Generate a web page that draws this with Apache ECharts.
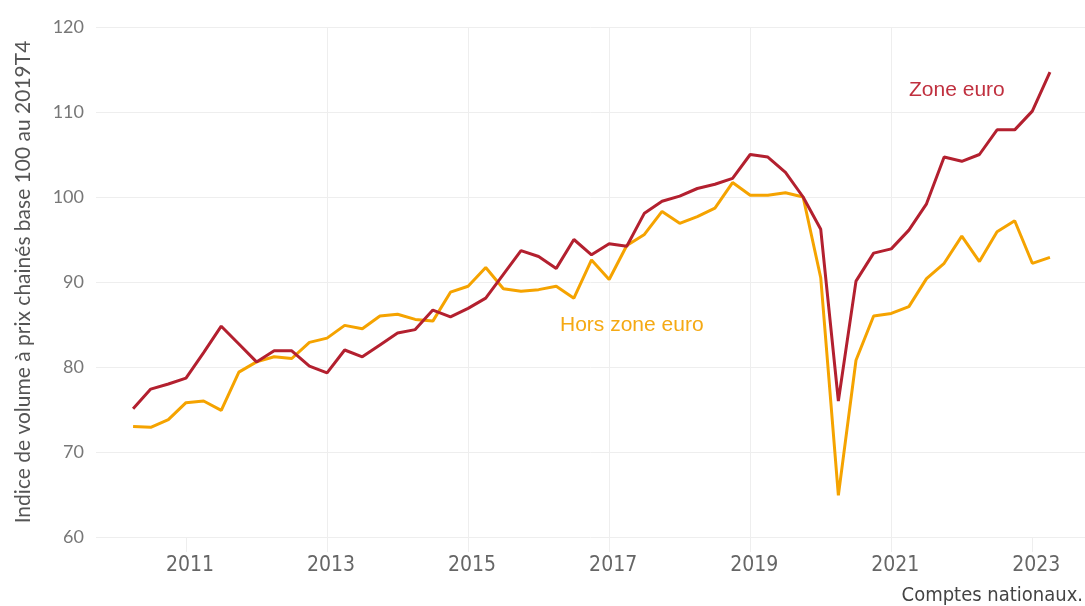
<!DOCTYPE html>
<html>
<head>
<meta charset="utf-8">
<script src="https://cdn.jsdelivr.net/npm/echarts@6/dist/echarts.min.js"></script>
<style>
  html, body { margin: 0; padding: 0; background: #fff; }
  #chart { width: 1085px; height: 606px; }
</style>
</head>
<body>
<div id="chart"></div>
<script>
// trimestres, de 2010T2 à 2023T2
const quarters = [
    '2010T2', '2010T3', '2010T4',
    '2011T1', '2011T2', '2011T3', '2011T4',
    '2012T1', '2012T2', '2012T3', '2012T4',
    '2013T1', '2013T2', '2013T3', '2013T4',
    '2014T1', '2014T2', '2014T3', '2014T4',
    '2015T1', '2015T2', '2015T3', '2015T4',
    '2016T1', '2016T2', '2016T3', '2016T4',
    '2017T1', '2017T2', '2017T3', '2017T4',
    '2018T1', '2018T2', '2018T3', '2018T4',
    '2019T1', '2019T2', '2019T3', '2019T4',
    '2020T1', '2020T2', '2020T3', '2020T4',
    '2021T1', '2021T2', '2021T3', '2021T4',
    '2022T1', '2022T2', '2022T3', '2022T4',
    '2023T1', '2023T2'
];

// indice de volume, base 100 au 2019T4
const zoneEuro = [
    75.1, 77.4, 78.0,
    78.7, 81.7, 84.8, 82.7,
    80.6, 81.9, 81.9, 80.1,
    79.3, 82.0, 81.2, 82.6,
    84.0, 84.4, 86.7, 85.9,
    86.9, 88.1, 90.9, 93.7,
    93.0, 91.6, 95.0, 93.2,
    94.5, 94.2, 98.1, 99.5,
    100.1, 101.0, 101.5, 102.2,
    105.0, 104.7, 102.9, 100.0,
    96.2, 76.0, 90.1, 93.4,
    93.9, 96.1, 99.2, 104.7,
    104.2, 105.0, 107.9, 107.9,
    110.1, 114.7
];

const horsZoneEuro = [
    73.0, 72.9, 73.8,
    75.8, 76.0, 74.9, 79.4,
    80.6, 81.2, 81.0, 82.9,
    83.4, 84.9, 84.5, 86.0,
    86.2, 85.6, 85.4, 88.8,
    89.5, 91.7, 89.2, 88.9,
    89.1, 89.5, 88.1, 92.6,
    90.3, 94.3, 95.6, 98.3,
    96.9, 97.7, 98.7, 101.7,
    100.2, 100.2, 100.5, 100.0,
    90.5, 64.9, 80.8, 86.0,
    86.3, 87.1, 90.4, 92.2,
    95.4, 92.4, 95.9, 97.2,
    92.2, 92.9
];

const yearTicks = [2011, 2013, 2015, 2017, 2019, 2021, 2023];

// position d'un trimestre en années décimales
function quarterPos(q) {
    const year = parseInt(q.slice(0, 4), 10);
    const n = parseInt(q.slice(5), 10);
    return year + (n - 1) / 4;
}

const chart = echarts.init(document.getElementById('chart'));

const gridColor = '#eeeeee';

const option = {
    backgroundColor: '#ffffff',
    animation: false,
    grid: {
        left: 96,
        right: 0,
        top: 27,
        bottom: 69
    },
    xAxis: {
        type: 'value',
        min: 2009.724,
        max: 2023.747,
        axisLine: { show: false },
        axisTick: {
            show: true,
            customValues: yearTicks,
            length: 15,
            lineStyle: { color: gridColor }
        },
        axisLabel: {
            customValues: yearTicks,
            formatter: function (v) { return String(Math.round(v)); },
            color: '#666',
            fontFamily: 'DejaVu Sans Condensed',
            fontSize: 21,
            margin: 18,
            padding: [0, 0, 0, 8]
        },
        splitLine: {
            show: true,
            showMinLine: false,
            showMaxLine: false,
            lineStyle: { color: gridColor, width: 1 }
        }
    },
    yAxis: {
        type: 'value',
        min: 60,
        max: 120,
        interval: 10,
        name: 'Indice de volume à prix chainés base 100 au 2019T4',
        nameLocation: 'middle',
        nameRotate: 90,
        nameGap: 62,
        nameTextStyle: {
            color: '#555',
            fontFamily: 'Lato',
            fontSize: 21
        },
        axisLine: { show: false },
        axisTick: { show: false },
        axisLabel: {
            color: '#777',
            fontFamily: 'Lato',
            fontSize: 18,
            margin: 12
        },
        splitLine: {
            lineStyle: { color: gridColor, width: 1 }
        }
    },
    series: [
        {
            name: 'Hors zone euro',
            type: 'line',
            symbol: 'none',
            lineStyle: { color: '#f5a300', width: 3 },
            data: quarters.map(function (q, i) { return [quarterPos(q), horsZoneEuro[i]]; })
        },
        {
            name: 'Zone euro',
            type: 'line',
            symbol: 'none',
            lineStyle: { color: '#b3202f', width: 3 },
            data: quarters.map(function (q, i) { return [quarterPos(q), zoneEuro[i]]; })
        }
    ],
    graphic: [
        {
            type: 'text',
            x: 909,
            y: 90,
            style: {
                text: 'Zone euro',
                fill: '#c0303f',
                font: '21px "Liberation Sans", Arial, sans-serif',
                verticalAlign: 'middle'
            }
        },
        {
            type: 'text',
            x: 560,
            y: 325,
            style: {
                text: 'Hors zone euro',
                fill: '#f5a913',
                font: '21px "Liberation Sans", Arial, sans-serif',
                verticalAlign: 'middle'
            }
        },
        {
            type: 'text',
            x: 1083,
            y: 596,
            style: {
                text: 'Comptes nationaux.',
                fill: '#444',
                font: '20px "DejaVu Sans Condensed", sans-serif',
                align: 'right',
                verticalAlign: 'middle'
            }
        }
    ]
};

chart.setOption(option);

window.addEventListener('resize', function () {
    chart.resize();
});
</script>
</body>
</html>
